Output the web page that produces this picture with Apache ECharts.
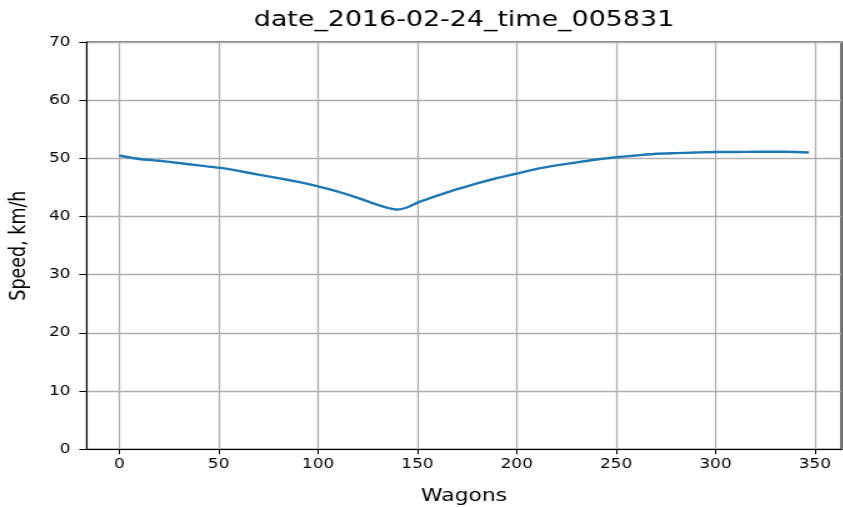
<!DOCTYPE html>
<html>
<head>
<meta charset="utf-8">
<script src="https://cdn.jsdelivr.net/npm/echarts@6/dist/echarts.min.js"></script>
<style>
  html, body { margin: 0; padding: 0; background: #fff; overflow: hidden; }
  /* The figure is laid out in a narrower box and widened horizontally */
  #chart { width: 674.4px; height: 507px; transform: scaleX(1.25); transform-origin: 0 0; }
</style>
</head>
<body>
<div id="chart"></div>
<script>
// Wagon index along the train and the measured speed at that wagon (km/h)
const wagons = [0, 10, 20, 30, 40, 50, 60, 70, 80, 90, 100, 110, 120, 130, 135, 140, 145, 150,
  160, 170, 180, 190, 200, 210, 220, 230, 240, 250, 260, 270, 280, 290, 300, 310, 320, 330, 340, 347];
const speeds = [50.5, 49.9, 49.6, 49.2, 48.8, 48.4, 47.85, 47.2, 46.6, 45.95, 45.2, 44.3, 43.2, 42.0, 41.5, 41.2, 41.6, 42.4,
  43.6, 44.7, 45.7, 46.6, 47.4, 48.2, 48.8, 49.3, 49.8, 50.2, 50.5, 50.8, 50.9, 51.0, 51.1, 51.1, 51.15, 51.15, 51.1, 51.0];
const xTicks = [0, 50, 100, 150, 200, 250, 300, 350];
const titleText = 'date_2016-02-24_time_005831';

const FONT = 'DejaVu Sans';
const chart = echarts.init(document.getElementById('chart'), null, { renderer: 'canvas' });

chart.setOption({
  animation: false,
  backgroundColor: '#ffffff',
  title: {
    text: titleText,
    left: 203,
    top: 9,
    padding: 0,
    textStyle: { fontFamily: FONT, fontSize: 21.5, fontWeight: 'normal', color: '#000' }
  },
  grid: {
    left: 69.4, right: 1, top: 42, bottom: 57.7,
    outerBoundsMode: 'none',
    containLabel: false,
    show: true, borderColor: '#000', borderWidth: 1.1, backgroundColor: 'transparent'
  },
  xAxis: {
    type: 'value',
    min: -16.4,
    max: 363.3,
    splitNumber: 8,
    name: 'Wagons',
    nameLocation: 'middle',
    nameGap: 38,
    nameTextStyle: { fontFamily: FONT, fontSize: 17.5, color: '#000' },
    axisLine: { show: true, onZero: false, lineStyle: { color: '#000', width: 1.1 } },
    axisTick: { show: true, customValues: xTicks, length: 5, lineStyle: { color: '#000', width: 1 } },
    axisLabel: {
      customValues: xTicks, margin: 8,
      fontFamily: FONT, fontSize: 13.5, color: '#000'
    },
    splitLine: { show: true, lineStyle: { color: '#b0b0b0', width: 1.3 } }
  },
  yAxis: {
    type: 'value',
    min: 0,
    max: 70,
    interval: 10,
    name: 'Speed, km/h',
    nameLocation: 'middle',
    nameGap: 45,
    nameTextStyle: { fontFamily: FONT, fontSize: 17.5, color: '#000' },
    axisLine: { show: true, onZero: false, lineStyle: { color: '#000', width: 1.1 } },
    axisTick: { show: true, length: 6, lineStyle: { color: '#000', width: 1 } },
    axisLabel: { margin: 13, fontFamily: FONT, fontSize: 13.5, color: '#000' },
    splitLine: { show: true, lineStyle: { color: '#b0b0b0', width: 1.3 } }
  },
  series: [{
    type: 'line',
    data: wagons.map((w, i) => [w, speeds[i]]),
    showSymbol: false,
    smooth: 0.15,
    lineStyle: { color: '#1f77b4', width: 2.4 },
    itemStyle: { color: '#1f77b4' }
  }]
});
</script>
</body>
</html>
